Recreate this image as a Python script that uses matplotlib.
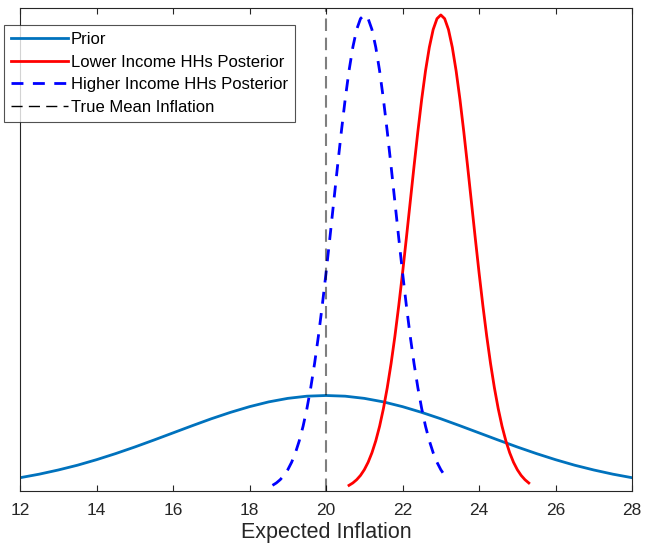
import matplotlib
matplotlib.use("Agg")
import matplotlib.pyplot as plt
from matplotlib.lines import Line2D

plt.rcParams['font.family'] = ['Liberation Sans', 'DejaVu Sans']

# Prior curve
prior_x = [12.0, 12.5, 13.0, 13.5, 14.0, 14.5, 15.0, 15.5, 16.0, 16.5, 17.0, 17.5,
           18.0, 18.5, 19.0, 19.5, 20.0, 20.5, 21.0, 21.5, 22.0, 22.5, 23.0, 23.5,
           24.0, 24.5, 25.0, 25.5, 26.0, 26.5, 27.0, 27.5, 28.0]
prior_y = [0.0135, 0.0172, 0.0216, 0.0266, 0.0324, 0.0388, 0.0457, 0.0530, 0.0605,
           0.0680, 0.0753, 0.0820, 0.0880, 0.0930, 0.0967, 0.0990, 0.0997, 0.0990,
           0.0967, 0.0930, 0.0880, 0.0820, 0.0753, 0.0680, 0.0605, 0.0530, 0.0457,
           0.0388, 0.0324, 0.0266, 0.0216, 0.0172, 0.0135]

# Lower income HHs posterior (x from 20.6 to 25.3 in steps of 0.1)
low_x = [20.6, 20.7, 20.8, 20.9, 21.0, 21.1, 21.2, 21.3, 21.4, 21.5, 21.6, 21.7,
         21.8, 21.9, 22.0, 22.1, 22.2, 22.3, 22.4, 22.5, 22.6, 22.7, 22.8, 22.9,
         23.0, 23.1, 23.2, 23.3, 23.4, 23.5, 23.6, 23.7, 23.8, 23.9, 24.0, 24.1,
         24.2, 24.3, 24.4, 24.5, 24.6, 24.7, 24.8, 24.9, 25.0, 25.1, 25.2, 25.3]
low_y = [0.0055, 0.0080, 0.0114, 0.0159, 0.0219, 0.0297, 0.0397, 0.0522, 0.0675,
         0.0860, 0.1079, 0.1332, 0.1619, 0.1938, 0.2283, 0.2649, 0.3025, 0.3401,
         0.3764, 0.4102, 0.4401, 0.4648, 0.4834, 0.4948, 0.4987, 0.4948, 0.4834,
         0.4648, 0.4401, 0.4102, 0.3764, 0.3401, 0.3025, 0.2649, 0.2283, 0.1938,
         0.1619, 0.1332, 0.1079, 0.0860, 0.0675, 0.0522, 0.0397, 0.0297, 0.0219,
         0.0159, 0.0114, 0.0080]

# Higher income HHs posterior (x from 18.6 to 23.2 in steps of 0.1)
high_x = [18.6, 18.7, 18.8, 18.9, 19.0, 19.1, 19.2, 19.3, 19.4, 19.5, 19.6, 19.7,
          19.8, 19.9, 20.0, 20.1, 20.2, 20.3, 20.4, 20.5, 20.6, 20.7, 20.8, 20.9,
          21.0, 21.1, 21.2, 21.3, 21.4, 21.5, 21.6, 21.7, 21.8, 21.9, 22.0, 22.1,
          22.2, 22.3, 22.4, 22.5, 22.6, 22.7, 22.8, 22.9, 23.0, 23.1, 23.2]
high_y = [0.0055, 0.0080, 0.0114, 0.0159, 0.0219, 0.0297, 0.0397, 0.0522, 0.0675,
          0.0860, 0.1079, 0.1332, 0.1619, 0.1938, 0.2283, 0.2649, 0.3025, 0.3401,
          0.3764, 0.4102, 0.4401, 0.4648, 0.4834, 0.4948, 0.4987, 0.4948, 0.4834,
          0.4648, 0.4401, 0.4102, 0.3764, 0.3401, 0.3025, 0.2649, 0.2283, 0.1938,
          0.1619, 0.1332, 0.1079, 0.0860, 0.0675, 0.0522, 0.0397, 0.0297, 0.0219,
          0.0159, 0.0114]

true_mean = 20
xticks = [12, 14, 16, 18, 20, 22, 24, 26, 28]

fig = plt.figure(figsize=(6.45, 5.5), dpi=100)
ax = fig.add_axes([0.031, 0.108, 0.949, 0.8775])

c_prior = '#0072BD'
lw = 2.0
dash_blue = (0, (4.3, 3.4))
dash_gray = (0, (6.0, 3.2))
ax.plot(prior_x, prior_y, color=c_prior, lw=lw)
ax.plot(low_x, low_y, color='#FF0000', lw=lw)
ax.plot(high_x, high_y, color='#0000FF', lw=lw, linestyle=dash_blue)
ax.axvline(true_mean, color='black', alpha=0.5, lw=1.5, linestyle=dash_gray)

ax.set_xlim(12, 28)
ax.set_ylim(0, 0.506)
ax.set_xticks(xticks)
ax.set_xticklabels([str(t) for t in xticks])
ax.set_yticks([])
ax.tick_params(axis='x', direction='in', length=4, width=0.8, top=True,
               labelsize=12.5, colors='#262626', pad=9)
for s in ax.spines.values():
    s.set_color('#262626')
    s.set_linewidth(0.8)
ax.set_xlabel('Expected Inflation', fontsize=15.5, color='#262626', labelpad=3)

handles = [
    Line2D([], [], color=c_prior, lw=lw),
    Line2D([], [], color='#FF0000', lw=lw),
    Line2D([], [], color='#0000FF', lw=lw, linestyle=dash_blue),
    Line2D([], [], color='black', lw=1.0, linestyle=(0, (8, 4.5))),
]
labels = ['Prior', 'Lower Income HHs Posterior', 'Higher Income HHs Posterior',
          'True Mean Inflation']
leg = fig.legend(handles, labels, loc='upper left',
                 bbox_to_anchor=(4 / 645, 1 - 25 / 550), bbox_transform=fig.transFigure,
                 fontsize=12, frameon=True, fancybox=False, borderaxespad=0,
                 handlelength=3.4, handletextpad=0.2, labelspacing=0.46,
                 borderpad=0.42)
leg.get_frame().set_edgecolor('#262626')
leg.get_frame().set_linewidth(0.8)

fig.savefig('out.png', dpi=100)
